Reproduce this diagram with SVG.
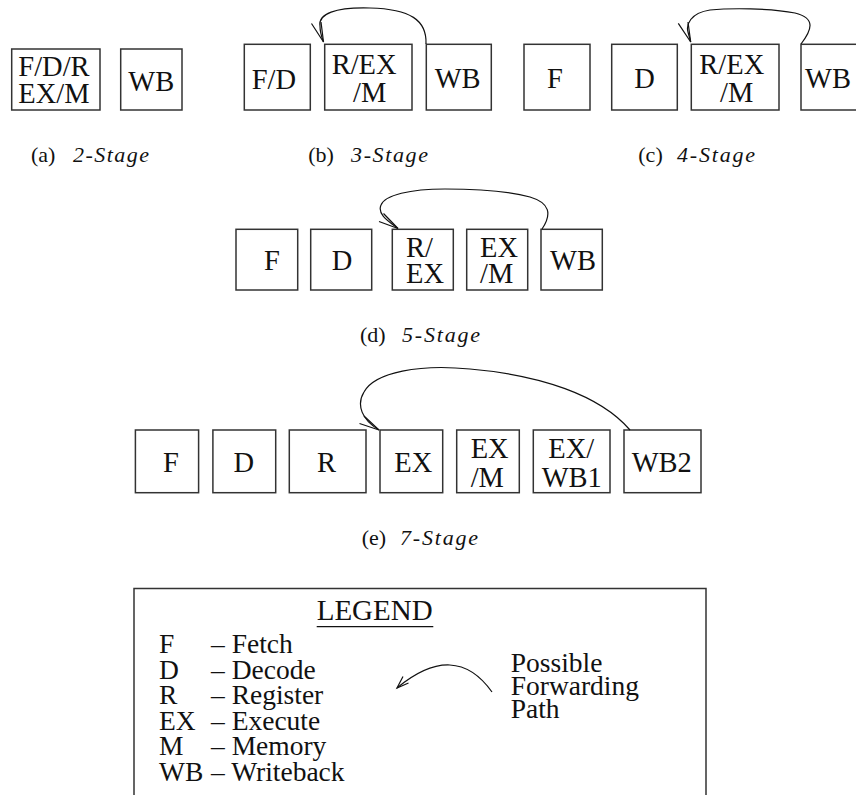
<svg xmlns="http://www.w3.org/2000/svg" width="856" height="795" viewBox="0 0 856 795" font-family="'Liberation Serif', 'DejaVu Serif', serif">
<style>
.box{fill:#fff;stroke:#333;stroke-width:1.5}
.t{font-family:'Liberation Serif','DejaVu Serif',serif;font-size:28.5px;fill:#111}
.lg{font-family:'Liberation Serif','DejaVu Serif',serif;font-size:27.5px;fill:#111}
.cap{font-family:'Liberation Serif','DejaVu Serif',serif;font-size:22px;fill:#111}
.it{font-style:italic}
.ln{fill:none;stroke:#111;stroke-width:1.2}
</style>
<rect width="856" height="795" fill="#fff"/>

<!-- (a) 2-Stage -->
<g id="a-fdrexm"><rect class="box" x="11.7" y="49" width="88.3" height="61"/><text class="t" x="18.3" y="76">F/D/R</text><text class="t" x="18.3" y="103">EX/M</text></g>
<g id="a-wb"><rect class="box" x="120.7" y="49" width="61.3" height="61"/><text class="t" x="128.3" y="90.5">WB</text></g>
<g id="cap-a"><text class="cap" x="31" y="161.5">(a)</text><text class="cap it" x="73" y="161.5" textLength="76" lengthAdjust="spacing">2-Stage</text></g>

<!-- (b) 3-Stage -->
<g id="b-fd"><rect class="box" x="244.3" y="44.3" width="66" height="65.7"/><text class="t" x="251.7" y="89">F/D</text></g>
<g id="b-rexm"><rect class="box" x="324.7" y="44.3" width="87.3" height="65.7"/><text class="t" x="331.7" y="74">R/EX</text><text class="t" x="353" y="101.7">/M</text></g>
<g id="b-wb"><rect class="box" x="426.3" y="44.3" width="65" height="65.7"/><text class="t" x="434.7" y="88.3">WB</text></g>
<g id="cap-b"><text class="cap" x="308.3" y="161.5">(b)</text><text class="cap it" x="351" y="161.5" textLength="77" lengthAdjust="spacing">3-Stage</text></g>

<!-- (c) 4-Stage -->
<g id="c-f"><rect class="box" x="524" y="44.3" width="66" height="65.7"/><text class="t" x="547" y="88.3">F</text></g>
<g id="c-d"><rect class="box" x="611.7" y="44.3" width="65.6" height="65.7"/><text class="t" x="634.3" y="88.3">D</text></g>
<g id="c-rexm"><rect class="box" x="691.3" y="44.3" width="87.7" height="65.7"/><text class="t" x="699.3" y="74">R/EX</text><text class="t" x="720" y="101.7">/M</text></g>
<g id="c-wb"><rect class="box" x="801" y="44.3" width="66" height="65.7"/><text class="t" x="805" y="88.3">WB</text></g>
<g id="cap-c"><text class="cap" x="638.3" y="161.5">(c)</text><text class="cap it" x="677" y="161.5" textLength="78" lengthAdjust="spacing">4-Stage</text></g>

<!-- (d) 5-Stage -->
<g id="d-f"><rect class="box" x="236" y="229.3" width="61.7" height="60.7"/><text class="t" x="264" y="270">F</text></g>
<g id="d-d"><rect class="box" x="310.7" y="229.3" width="61" height="60.7"/><text class="t" x="331.7" y="270">D</text></g>
<g id="d-rex"><rect class="box" x="392.3" y="229.3" width="61" height="60.7"/><text class="t" x="406" y="256.7">R/</text><text class="t" x="406" y="283.3">EX</text></g>
<g id="d-exm"><rect class="box" x="466.7" y="229.3" width="61" height="60.7"/><text class="t" x="480" y="256.7">EX</text><text class="t" x="480" y="283.3">/M</text></g>
<g id="d-wb"><rect class="box" x="541" y="229.3" width="61.3" height="60.7"/><text class="t" x="550" y="270">WB</text></g>
<g id="cap-d"><text class="cap" x="360" y="341.7">(d)</text><text class="cap it" x="402" y="341.7" textLength="78" lengthAdjust="spacing">5-Stage</text></g>

<!-- (e) 7-Stage -->
<g id="e-f"><rect class="box" x="135.4" y="430" width="63.2" height="62.7"/><text class="t" x="163" y="471.7">F</text></g>
<g id="e-d"><rect class="box" x="212.9" y="430" width="62.8" height="62.7"/><text class="t" x="233.6" y="471.7">D</text></g>
<g id="e-r"><rect class="box" x="289.3" y="430" width="76.7" height="62.7"/><text class="t" x="317" y="471.7">R</text></g>
<g id="e-ex"><rect class="box" x="380" y="430" width="62.7" height="62.7"/><text class="t" x="394.3" y="471.7">EX</text></g>
<g id="e-exm"><rect class="box" x="456.7" y="430" width="62.6" height="62.7"/><text class="t" x="470.7" y="458.3">EX</text><text class="t" x="470.7" y="486.7">/M</text></g>
<g id="e-exwb1"><rect class="box" x="533.3" y="430" width="76.7" height="62.7"/><text class="t" x="548.3" y="458.3">EX/</text><text class="t" x="541.7" y="486.7">WB1</text></g>
<g id="e-wb2"><rect class="box" x="624" y="430" width="77" height="62.7"/><text class="t" x="631.7" y="471.7">WB2</text></g>
<g id="cap-e"><text class="cap" x="361.7" y="545">(e)</text><text class="cap it" x="400" y="545" textLength="78" lengthAdjust="spacing">7-Stage</text></g>

<!-- Legend -->
<g id="legend">
<path class="box" d="M134,800 V588.5 H706 V800" fill="none"/>
<text class="t" x="316.7" y="620" textLength="116" lengthAdjust="spacingAndGlyphs">LEGEND</text>
<line x1="316.7" y1="626.7" x2="433.3" y2="626.7" stroke="#111" stroke-width="1.2"/>
<text class="lg" x="159" y="653">F</text><text class="lg" x="211" y="653">– Fetch</text>
<text class="lg" x="159" y="678.6">D</text><text class="lg" x="211" y="678.6">– Decode</text>
<text class="lg" x="159" y="704.2">R</text><text class="lg" x="211" y="704.2">– Register</text>
<text class="lg" x="159" y="729.8">EX</text><text class="lg" x="211" y="729.8">– Execute</text>
<text class="lg" x="159" y="755.4">M</text><text class="lg" x="211" y="755.4">– Memory</text>
<text class="lg" x="159" y="781">WB</text><text class="lg" x="211" y="781">– Writeback</text>
<text class="lg" x="510.7" y="671.5">Possible</text>
<text class="lg" x="510.7" y="694.5">Forwarding</text>
<text class="lg" x="510.7" y="717.5">Path</text>
</g>

<!-- Connectors -->
<g id="connectors">
<path class="ln" d="M426,44 C427,20 410,9 370,8 C335,7 318,14 320,26 C320,33 322,38 323.5,42"/>
<path class="ln" d="M311.5,23.5 L323.5,42 L321,22"/>
<path class="ln" d="M801,44 C812,30 816,18 795,13 C770,8 730,8 710,10 C690,13 686,25 688,32 C689,36 690,39 690.7,42"/>
<path class="ln" d="M678.3,23.3 L690.7,42 L688,22"/>
<path class="ln" d="M542,229 C552,214 550,203 530,197 C505,190 470,189 445,189 C410,189 385,195 381,205 C377,214 388,221 398,228.5"/>
<path class="ln" d="M379,221.5 L398,228.5 L383.5,213.5"/>
<path class="ln" d="M630,430 C600,395 540,375 470,369 C420,364 375,372 364,392 C356,405 362,420 379,430"/>
<path class="ln" d="M359.5,423.5 L379,430 L364,416"/>
<path class="ln" d="M492,692 Q455,640 397,688"/>
<path class="ln" d="M403,676.5 L397,688 L408.5,683"/>
</g>
</svg>
